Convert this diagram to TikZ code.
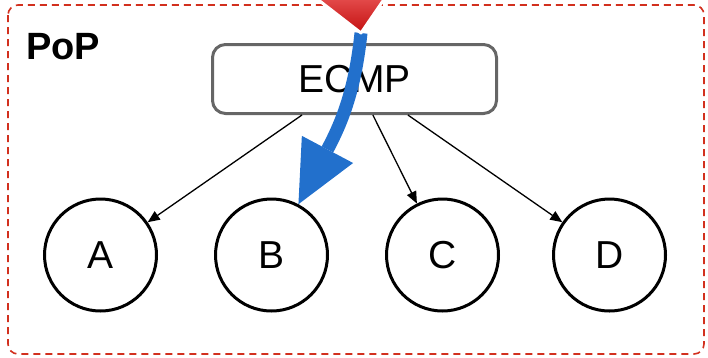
\documentclass[tikz,border=0pt]{standalone}
\usepackage{fontspec}
\setmainfont{Liberation Sans}
\usetikzlibrary{arrows.meta,positioning,calc}
\definecolor{popred}{HTML}{D2301E}
\definecolor{boxgray}{HTML}{666666}
\definecolor{flowblue}{HTML}{2270CC}
\definecolor{droplight}{HTML}{E65050}
\definecolor{dropdark}{HTML}{C41010}

\begin{document}
\begin{tikzpicture}[x=1pt,y=-1pt,node distance=56pt,>={Triangle[length=12pt,width=10pt]}]
    \tikzstyle{lbl}=[font=\fontsize{39}{47}\selectfont]
    \tikzstyle{hostnode}=[circle,draw,line width=3pt,minimum size=112pt,inner sep=0pt,lbl]
    \tikzstyle{ecmpbox}=[rectangle,draw=boxgray,line width=3pt,rounded corners=13pt,minimum width=284pt,minimum height=69pt,inner sep=0pt,lbl]
    \tikzstyle{fanout}=[->,line width=1.3pt]
    \useasboundingbox (0,0) rectangle (708,357);
    \clip (0,0) rectangle (708,357);
    % PoP frame
    \draw[popred,line width=1.6pt,dash pattern=on 7pt off 5pt,rounded corners=10pt] (8,5) rectangle (704,354);
    \node[anchor=base west,inner sep=0pt,font=\bfseries\fontsize{38}{45}\selectfont] (pop) at (26,59) {PoP};
    % ECMP and hosts
    \node[ecmpbox] (ecmp) at (354.5,79) {ECMP};
    \node[hostnode] (A) at (100.5,255) {A};
    \node[hostnode,right=of A] (B) {B};
    \node[hostnode,right=of B] (C) {C};
    \node[hostnode,right=52pt of C] (D) {D};
    \coordinate (outA) at ($(ecmp.south west)!0.317!(ecmp.south east)$);
    \coordinate (outC) at ($(ecmp.south west)!0.564!(ecmp.south east)$);
    \coordinate (outD) at ($(ecmp.south west)!0.686!(ecmp.south east)$);
    \draw[fanout] (outA) -- (A);
    \draw[fanout] (outC) -- (C);
    \draw[fanout] (outD) -- (D);
    % incoming flow
    \coordinate (drop) at (361,33);
    \draw[flowblue,line width=13pt,-{Triangle[length=62pt,width=58pt,line width=0pt]}] (drop) .. controls (355,90) and (342,122) .. (B);
    \path[draw=white,line width=3pt,line join=round,top color=droplight,bottom color=dropdark] (312,-5) -- (387,-5) -- (drop) -- cycle;
\end{tikzpicture}
\end{document}
